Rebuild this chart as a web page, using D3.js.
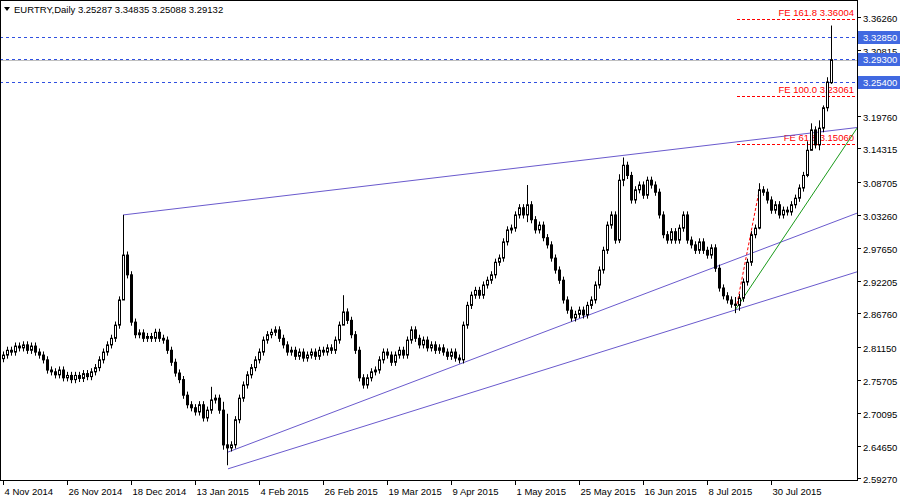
<!DOCTYPE html>
<html><head><meta charset="utf-8">
<script src="https://cdn.jsdelivr.net/npm/d3@7"></script>
<style>body{margin:0;background:#fff}text{font-family:"Liberation Sans",sans-serif;font-size:9.5px}</style>
</head><body><svg id="chart" width="900" height="500"></svg>
<script>
// daily closes, EURTRY, from 4 Nov 2014
var closes = [2.798,2.806,2.803,2.813,2.810,2.815,2.806,2.813,2.803,2.798,2.790,2.773,2.770,2.765,2.773,2.760,2.764,2.757,2.764,2.759,
2.767,2.762,2.770,2.777,2.790,2.803,2.815,2.826,2.848,2.890,2.965,2.932,2.853,2.832,2.835,2.826,2.829,2.826,2.836,2.826,
2.823,2.806,2.786,2.768,2.757,2.731,2.715,2.710,2.703,2.715,2.693,2.706,2.723,2.726,2.706,2.648,2.643,2.648,2.690,2.726,
2.748,2.765,2.777,2.790,2.803,2.823,2.832,2.836,2.840,2.826,2.815,2.803,2.806,2.796,2.803,2.793,2.798,2.803,2.796,2.806,
2.803,2.810,2.806,2.823,2.848,2.870,2.856,2.832,2.806,2.760,2.748,2.760,2.770,2.773,2.790,2.803,2.798,2.786,2.798,2.806,
2.798,2.823,2.840,2.826,2.815,2.823,2.810,2.815,2.806,2.810,2.803,2.796,2.803,2.793,2.790,2.848,2.881,2.898,2.906,2.898,
2.915,2.923,2.932,2.953,2.960,2.987,3.007,3.010,3.032,3.044,3.032,3.049,3.024,3.007,3.015,2.994,2.982,2.960,2.940,2.923,
2.890,2.873,2.860,2.866,2.873,2.865,2.881,2.890,2.915,2.940,2.973,3.015,3.032,2.990,3.090,3.115,3.098,3.057,3.074,3.082,
3.065,3.090,3.082,3.070,3.032,2.999,2.990,3.004,2.990,3.010,3.032,2.990,2.982,2.973,2.987,2.973,2.965,2.977,2.943,2.910,
2.897,2.890,2.883,2.881,2.893,2.920,2.953,2.999,3.010,3.074,3.070,3.057,3.040,3.049,3.032,3.040,3.037,3.049,3.060,3.077,
3.098,3.140,3.174,3.149,3.177,3.211,3.254,3.29132];
var firstOpen = 2.792;
var lastBar = {open: 3.25287, high: 3.34835, low: 3.25088, close: 3.29132};
// bars with notably long wicks: index -> [high, low]
var wickOverrides = {30:[3.032,2.930], 55:[2.720,2.640], 56:[2.700,2.614], 85:[2.898,2.860], 52:[2.745,2.700],
  131:[3.082,3.020], 155:[3.128,3.080], 154:[3.100,2.985], 189:[3.085,3.008], 184:[2.900,2.872], 183:[2.895,2.868],
  201:[3.155,3.095], 202:[3.185,3.140], 204:[3.190,3.140], 205:[3.215,3.170], 206:[3.262,3.205]};
var dateLabels = ["4 Nov 2014","26 Nov 2014","18 Dec 2014","13 Jan 2015","4 Feb 2015","26 Feb 2015","19 Mar 2015",
  "9 Apr 2015","1 May 2015","25 May 2015","16 Jun 2015","8 Jul 2015","30 Jul 2015"];
var priceTicks = [3.36260,3.30815,3.19760,3.14315,3.08705,3.03260,2.97650,2.92205,2.86760,2.81150,2.75705,2.70095,2.64650,2.59270];
var blueLevels = [3.32850,3.29300,3.25400];
var feLevels = [{name:"FE 161.8", v:3.36004},{name:"FE 100.0", v:3.23061},{name:"FE 61.8", v:3.15060}];
// trend lines: [bar, price] pairs
var trendLines = [
  {p:[[30,3.032],[213.5,3.178]], c:"#6a5acd"},
  {p:[[56.25,2.636],[213.5,3.035]], c:"#6a5acd"},
  {p:[[56.25,2.608],[213.5,2.937]], c:"#6a5acd"},
  {p:[[183,2.873],[213.5,3.177]], c:"#1a9a1a"}];
var fiboLine = [[183.5,2.883],[189.25,3.080]];

var svg = d3.select("#chart");
var W = 857, H = 480;
var x = d3.scaleLinear().domain([0,207]).range([3,831]);
var y = d3.scaleLinear().domain([2.5927,3.3626]).range([478,17]);

var bars = closes.map(function(c,i){
  var o = i == 0 ? firstOpen : closes[i-1];
  var hi = Math.max(o,c)+0.006, lo = Math.min(o,c)-0.006;
  if (wickOverrides[i]) { hi = wickOverrides[i][0]; lo = wickOverrides[i][1]; }
  return {i:i, o:o, c:c, h:hi, l:lo};
});
var lb = bars[207]; lb.o = lastBar.open; lb.h = lastBar.high; lb.l = lastBar.low; lb.c = lastBar.close;

var plot = svg.append("g");
plot.append("defs").append("clipPath").attr("id","clip").append("rect").attr("width",W).attr("height",H);
var g = plot.append("g").attr("clip-path","url(#clip)");

// blue dashed levels
g.selectAll(".lvl").data(blueLevels).enter().append("line")
  .attr("x1",0).attr("x2",W).attr("y1",d=>Math.round(y(d))+0.5).attr("y2",d=>Math.round(y(d))+0.5)
  .attr("stroke","#3050e0").attr("stroke-dasharray","3,3");
// current price line
g.append("line").attr("x1",0).attr("x2",W).attr("y1",Math.round(y(lastBar.close))+0.5).attr("y2",Math.round(y(lastBar.close))+0.5)
  .attr("stroke","#c0c0c0");

// FE levels
g.selectAll(".fe").data(feLevels).enter().append("line")
  .attr("x1",x(183.5)).attr("x2",W-2).attr("y1",d=>Math.round(y(d.v))+0.5).attr("y2",d=>Math.round(y(d.v))+0.5)
  .attr("stroke","#ff0000").attr("stroke-dasharray","3,2");
g.selectAll(".fet").data(feLevels).enter().append("text")
  .attr("x",W-3).attr("y",d=>y(d.v)-3).attr("text-anchor","end").attr("fill","#ff0000")
  .text(d=>d.name+" "+d.v.toFixed(5));
g.append("line").attr("x1",x(fiboLine[0][0])).attr("y1",y(fiboLine[0][1])).attr("x2",x(fiboLine[1][0])).attr("y2",y(fiboLine[1][1]))
  .attr("stroke","#ff0000").attr("stroke-dasharray","3,2");

// trendlines
g.selectAll(".tl").data(trendLines).enter().append("line")
  .attr("x1",d=>x(d.p[0][0])).attr("y1",d=>y(d.p[0][1])).attr("x2",d=>x(d.p[1][0])).attr("y2",d=>y(d.p[1][1]))
  .attr("stroke",d=>d.c).attr("stroke-width",1);

// candles
var cg = g.selectAll(".bar").data(bars).enter().append("g");
cg.append("line").attr("x1",d=>Math.round(x(d.i))+0.5).attr("x2",d=>Math.round(x(d.i))+0.5)
  .attr("y1",d=>y(d.h)).attr("y2",d=>y(d.l)).attr("stroke","#000");
cg.append("rect").attr("x",d=>Math.round(x(d.i))-0.5).attr("width",2)
  .attr("y",d=>y(Math.max(d.o,d.c))).attr("height",d=>Math.max(1,Math.abs(y(d.o)-y(d.c))))
  .attr("fill",d=>d.c>=d.o?"#fff":"#000").attr("stroke","#000");

// frame
svg.append("rect").attr("x",0.5).attr("y",0.5).attr("width",W).attr("height",H).attr("fill","none").attr("stroke","#000");

// price axis
svg.selectAll(".pt").data(priceTicks).enter().append("g").each(function(d){
  var yy = Math.round(y(d))+0.5;
  d3.select(this).append("line").attr("x1",W).attr("x2",W+4).attr("y1",yy).attr("y2",yy).attr("stroke","#000");
  d3.select(this).append("text").attr("x",W+6).attr("y",yy+4).text(d.toFixed(5));
});
blueLevels.forEach(function(d){
  var yy = Math.round(y(d));
  svg.append("rect").attr("x",W+1).attr("y",yy-6).attr("width",42).attr("height",13).attr("fill","#4169e1");
  svg.append("text").attr("x",W+6).attr("y",yy+4).attr("fill","#fff").text(d.toFixed(5));
});

// date axis
dateLabels.forEach(function(d,k){
  var xx = Math.round(x(k*16))+0.5;
  svg.append("line").attr("x1",xx).attr("x2",xx).attr("y1",H).attr("y2",H+5).attr("stroke","#000");
  svg.append("text").attr("x",xx+1).attr("y",H+15).text(d);
});

// title
svg.append("path").attr("d","M4,7 L10,7 L7,11 Z").attr("fill","#000");
svg.append("text").attr("x",14).attr("y",13)
  .text("EURTRY,Daily  "+[lastBar.open,lastBar.high,lastBar.low,lastBar.close].map(v=>v.toFixed(5)).join(" "));
</script></body></html>
